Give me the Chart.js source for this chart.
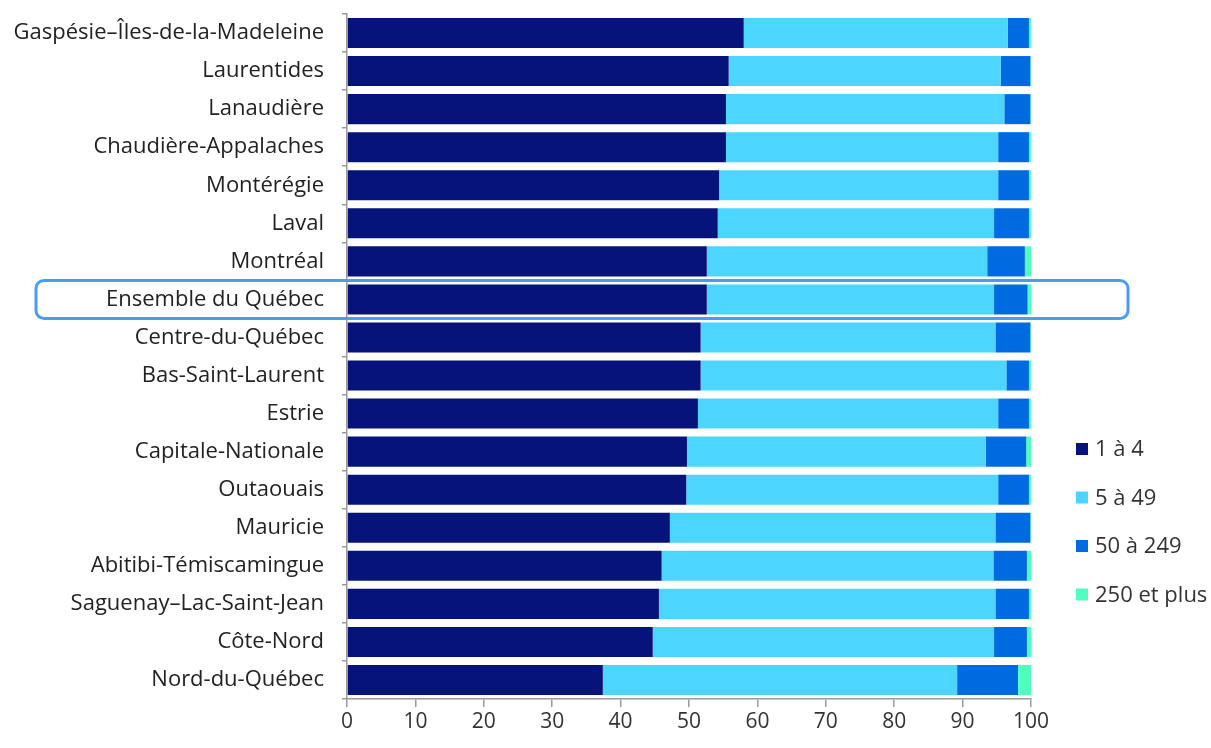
<!DOCTYPE html>
<html lang="fr">
<head>
<meta charset="utf-8">
<title>Répartition des établissements selon la taille, par région</title>
<script src="https://cdn.jsdelivr.net/npm/chart.js@4.4.1/dist/chart.umd.min.js"></script>
<style>
  html, body { margin: 0; padding: 0; background: #fff; }
  #wrap { width: 1211px; height: 748px; position: relative; }
</style>
</head>
<body>
<div id="wrap"><canvas id="chart"></canvas></div>
<script>
// --- Data (percent of establishments) ---
const regions = [
  'Gaspésie–Îles-de-la-Madeleine', 'Laurentides', 'Lanaudière', 'Chaudière-Appalaches',
  'Montérégie', 'Laval', 'Montréal', 'Ensemble du Québec', 'Centre-du-Québec',
  'Bas-Saint-Laurent', 'Estrie', 'Capitale-Nationale', 'Outaouais', 'Mauricie',
  'Abitibi-Témiscamingue', 'Saguenay–Lac-Saint-Jean', 'Côte-Nord', 'Nord-du-Québec'
];
const size1to4     = [58.0, 55.8, 55.4, 55.4, 54.4, 54.2, 52.6, 52.6, 51.7, 51.7, 51.3, 49.7, 49.6, 47.2, 46.0, 45.6, 44.7, 37.4];
const size5to49    = [38.6, 39.8, 40.7, 39.8, 40.8, 40.4, 41.0, 42.0, 43.1, 44.7, 43.9, 43.7, 45.6, 47.6, 48.5, 49.2, 49.9, 51.8];
const size50to249  = [ 3.1,  4.3,  3.8,  4.5,  4.5,  5.1,  5.5,  4.9,  5.1,  3.3,  4.5,  5.9,  4.5,  5.1,  4.9,  4.9,  4.8,  8.9];
const size250plus  = [ 0.3,  0.1,  0.1,  0.3,  0.3,  0.3,  0.9,  0.5,  0.1,  0.3,  0.3,  0.7,  0.3,  0.1,  0.6,  0.3,  0.6,  1.9];
const xTicks = [0, 10, 20, 30, 40, 50, 60, 70, 80, 90, 100];
const highlighted = 'Ensemble du Québec';

const FONT = '"Open Sans", "Noto Sans", sans-serif';

// --- Legend drawn at the lower right, like the original ---
const sideLegend = {
  id: 'sideLegend',
  afterDraw(chart) {
    const ctx = chart.ctx;
    const x = chart.chartArea.right + 45;
    ctx.save();
    ctx.font = '22px ' + FONT;
    ctx.textBaseline = 'middle';
    chart.data.datasets.forEach((ds, i) => {
      const y = 449 + i * 48.5;
      ctx.fillStyle = ds.backgroundColor;
      ctx.fillRect(x, y - 6, 12, 12);
      ctx.fillStyle = '#333';
      ctx.fillText(ds.label, x + 19, y + 1);
    });
    ctx.restore();
  }
};

// --- Rounded box around the Québec total ---
const highlightBox = {
  id: 'highlightBox',
  afterDatasetsDraw(chart) {
    const yScale = chart.scales.y;
    const idx = regions.indexOf(highlighted);
    const cy = yScale.getPixelForValue(idx);
    const half = (yScale.getPixelForValue(1) - yScale.getPixelForValue(0)) / 2;
    const ctx = chart.ctx;
    ctx.save();
    ctx.strokeStyle = '#4a9cf2';
    ctx.lineWidth = 3;
    ctx.beginPath();
    ctx.roundRect(36, cy - half, chart.chartArea.right + 97 - 36, half * 2, 8);
    ctx.stroke();
    ctx.restore();
  }
};

new Chart(document.getElementById('chart').getContext('2d'), {
  type: 'bar',
  data: {
    labels: regions,
    datasets: [
      { label: '1 à 4',        data: size1to4,    backgroundColor: '#06137a' },
      { label: '5 à 49',       data: size5to49,   backgroundColor: '#4cd6ff' },
      { label: '50 à 249',     data: size50to249, backgroundColor: '#006be0' },
      { label: '250 et plus',  data: size250plus, backgroundColor: '#50ffc0' }
    ]
  },
  options: {
    indexAxis: 'y',
    responsive: true,
    maintainAspectRatio: false,
    animation: false,
    layout: { padding: { top: 14, right: 180, left: 0, bottom: 0 } },
    datasets: {
      bar: { barPercentage: 0.79, categoryPercentage: 1, borderWidth: 0 }
    },
    plugins: {
      legend: { display: false },
      tooltip: { enabled: false }
    },
    scales: {
      x: {
        stacked: true,
        min: 0,
        max: 100,
        afterBuildTicks: s => { s.ticks = xTicks.map(v => ({ value: v })); },
        afterFit: s => { s.height = 49; s.paddingLeft = 0; s.paddingRight = 0; },
        border: { color: '#999', width: 1.5 },
        grid: { drawOnChartArea: false, drawTicks: true, tickLength: 8, color: '#999', lineWidth: 1.5 },
        ticks: { color: '#333', font: { family: FONT, size: 21 }, padding: 2, maxRotation: 0 }
      },
      y: {
        stacked: true,
        afterFit: s => { s.width = 347; s.paddingTop = 0; s.paddingBottom = 0; },
        border: { color: '#999', width: 1.5 },
        grid: { drawOnChartArea: false, drawTicks: true, tickLength: 5, color: '#999', lineWidth: 1.5 },
        ticks: { color: '#222', font: { family: FONT, size: 22 }, padding: 18, autoSkip: false }
      }
    }
  },
  plugins: [highlightBox, sideLegend]
});
</script>
</body>
</html>
